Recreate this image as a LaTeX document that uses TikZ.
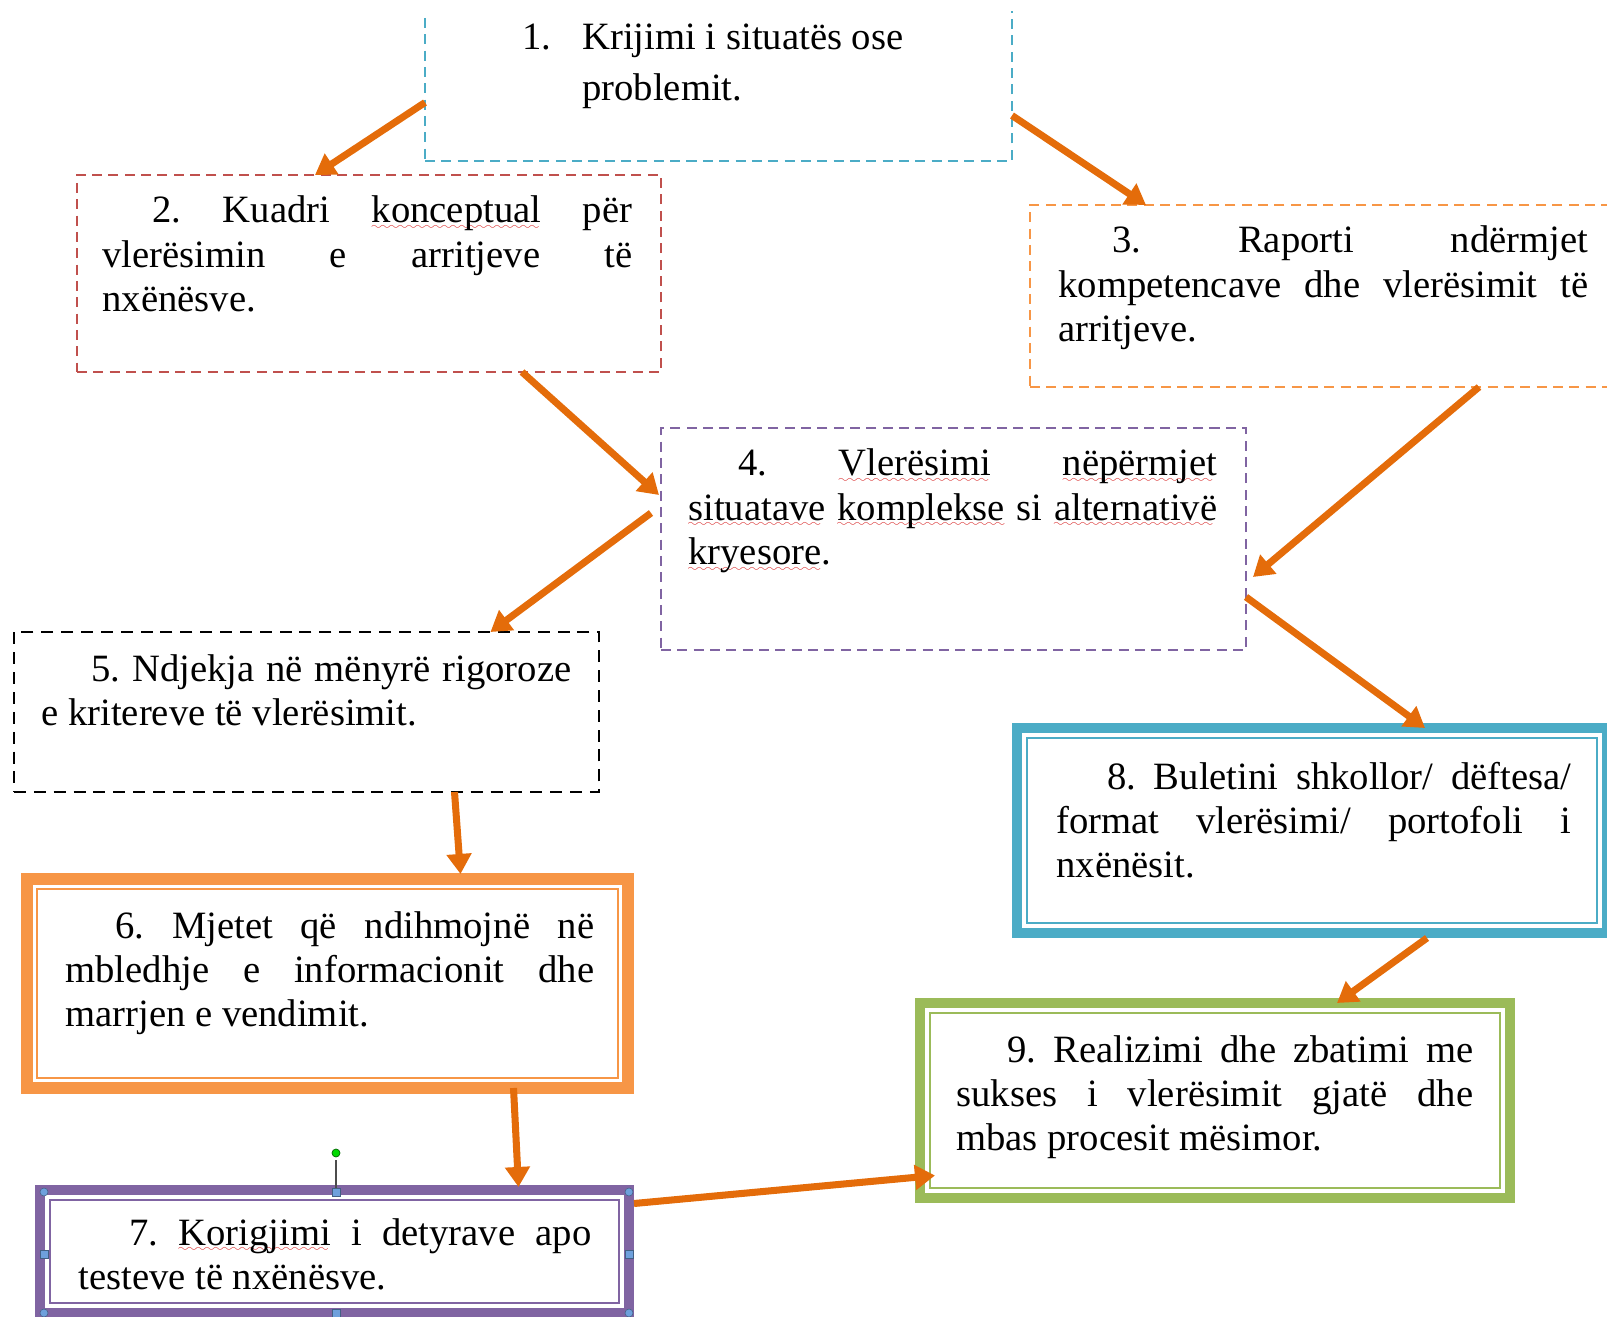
\documentclass[tikz,border=0pt]{standalone}
\usepackage{fontspec}
\setmainfont{Liberation Serif}
\usepackage{tikz}
\usetikzlibrary{arrows.meta,calc,fit}
\definecolor{aqua}{RGB}{75,172,198}
\definecolor{rose}{RGB}{192,80,77}
\definecolor{tangerine}{RGB}{247,150,70}
\definecolor{lilac}{RGB}{128,100,162}
\definecolor{leafgreen}{RGB}{155,187,89}
\definecolor{arrowor}{RGB}{228,108,10}
\definecolor{spellred}{RGB}{215,35,35}
\definecolor{handleblue}{RGB}{110,160,220}
\frenchspacing
% wavy spell-check underline
\font\wavefont=lasy6
\newcommand{\spellchk}[1]{\leavevmode\setbox0\hbox{#1}\rlap{\textcolor{spellred}{\lower3.5pt\hbox to\wd0{\leaders\hbox{\wavefont\char58}\hfil}}}\box0\relax}
% justified line
\newlength{\jwidth}
\newcommand{\jline}[1]{{\spaceskip=0pt\xspaceskip=0pt\makebox[\jwidth][s]{#1}}}

\begin{document}
\begin{tikzpicture}[x=0.2mm, y=-0.2mm,
  dashbox/.style={draw=#1, line width=1.5pt, dash pattern=on 5.7pt off 3.6pt, inner sep=0pt, outer sep=0pt},
  framebox/.style={draw=#1, line width=5.7pt, inner sep=0pt, outer sep=0pt},
  txt/.style={anchor=base west, inner sep=0pt, text width=#1, align=justify,
    font=\fontsize{22}{25.3}\selectfont, execute at begin node={\setlength{\jwidth}{#1}}},
  link/.style={draw=arrowor, line width=4pt, -{Triangle[length=11.4pt,width=13.7pt]}}]
\useasboundingbox (0,0) rectangle (1607,1317);
\clip (0,12) rectangle (1607,1317);

% dashed boxes
\node[dashbox=aqua, fit={(425,-10) (1012,161)}] (b1) {};
\node[dashbox=rose, fit={(77,175) (661,372)}] (b2) {};
\node[dashbox=tangerine, fit={(1030,205) (1630,387)}] (b3) {};
\node[dashbox=lilac, fit={(661,428) (1246,650)}] (b4) {};
\node[dashbox=black, dash pattern=on 6.8pt off 4.5pt, fit={(14,632) (599,792)}] (b5) {};

% framed boxes (thick band + thin inner line)
\node[framebox=tangerine, line width=6.8pt, fit={(27,879) (628,1088)}] (b6) {};
\node[framebox=lilac, fit={(40,1190) (629,1313)}] (b7) {};
\node[framebox=aqua, fit={(1017,728) (1607,933)}] (b8) {};
\node[framebox=leafgreen, fit={(920,1003) (1510,1198)}] (b9) {};
\foreach \b/\c in {b6/tangerine, b7/lilac, b8/aqua, b9/leafgreen}
  \draw[\c, line width=1.1pt] ([shift={(10,10)}]\b.north west) rectangle ([shift={(-10,-10)}]\b.south east);

% texts
\node[txt=110mm] (t1) at (522,50) {\makebox[12mm][l]{1.}Krijimi i situatës ose\\[1.2mm]
  \hspace*{12mm}problemit.};
\node[txt=106mm] (t2) at (102,223) {\jline{\hspace*{10mm}2. Kuadri \spellchk{konceptual} për}\\
  \jline{vlerësimin e arritjeve të}\\
  nxënësve.};
\node[txt=106mm] (t3) at (1058,253) {\jline{\hspace*{10.8mm}3. Raporti ndërmjet}\\
  \jline{kompetencave dhe vlerësimit të}\\
  arritjeve.};
\node[txt=105.8mm] (t4) at (688,476) {\jline{\hspace*{10mm}4. \spellchk{Vlerësimi} \spellchk{nëpërmjet}}\\
  \jline{\spellchk{situatave} \spellchk{komplekse} si \spellchk{alternativë}}\\
  \spellchk{kryesore}.};
\node[txt=106mm] (t5) at (41,681) {\jline{\hspace*{10mm}5. Ndjekja në mënyrë rigoroze}\\
  e kritereve të vlerësimit.};
\node[txt=105.8mm] (t6) at (65,938) {\jline{\hspace*{10mm}6. Mjetet që ndihmojnë në}\\
  \jline{mbledhje e informacionit dhe}\\
  marrjen e vendimit.};
\node[txt=102.6mm] (t7) at (78,1245) {\jline{\hspace*{10.2mm}7. \spellchk{Korigjimi} i detyrave apo}\\
  testeve të nxënësve.};
\node[txt=103mm] (t8) at (1056,789) {\jline{\hspace*{10.2mm}8. Buletini shkollor/ dëftesa/}\\
  \jline{format vlerësimi/ portofoli i}\\
  nxënësit.};
\node[txt=103.4mm] (t9) at (956,1062) {\jline{\hspace*{10.2mm}9. Realizimi dhe zbatimi me}\\
  \jline{sukses i vlerësimit gjatë dhe}\\
  mbas procesit mësimor.};

% arrows
\draw[link] ([shift={(0,27)}]b1.west) -- ([shift={(-54,0)}]b2.north);
\draw[link] ([shift={(0,40)}]b1.east) -- ([shift={(-184,0)}]b3.north);
\draw[link] ([shift={(153,0)}]b2.south) -- ([shift={(-2,-44)}]b4.west);
\draw[link] ([shift={(-10,-26)}]b4.west) -- ([shift={(184,0)}]b5.north);
\draw[link] ([shift={(149,0)}]b3.south) -- ([shift={(7,38)}]b4.east);
\draw[link] ([shift={(0,58)}]b4.east) -- ([shift={(113,0)}]b8.north);
\draw[link] ([shift={(148,0)}]b5.south) -- ([shift={(133,-5)}]b6.north);
\draw[link] ([shift={(186,0)}]b6.south) -- ([shift={(184,-3)}]b7.north);
\draw[link] ([shift={(115,5)}]b8.south) -- ([shift={(122,0)}]b9.north);
\draw[link] ([shift={(5,-48)}]b7.east) -- ([shift={(15,75)}]b9.west);

% selection handles on box 7
\draw[gray!60!black, line width=0.6pt] (336,1160) -- (336,1190);
\filldraw[fill=green!85!black, draw=green!40!black, line width=0.4pt] (336,1153) circle[radius=0.8mm];
\foreach \hx/\hy in {44/1192, 629/1192, 44/1313, 629/1313}
  \filldraw[fill=handleblue, draw=handleblue!60!black, line width=0.3pt] (\hx,\hy) circle[radius=0.8mm];
\foreach \hx/\hy in {336/1192, 44/1254, 629/1254, 336/1313}
  \filldraw[fill=handleblue, draw=handleblue!60!black, line width=0.3pt] (\hx-4,\hy-4) rectangle (\hx+4,\hy+4);
\end{tikzpicture}
\end{document}
